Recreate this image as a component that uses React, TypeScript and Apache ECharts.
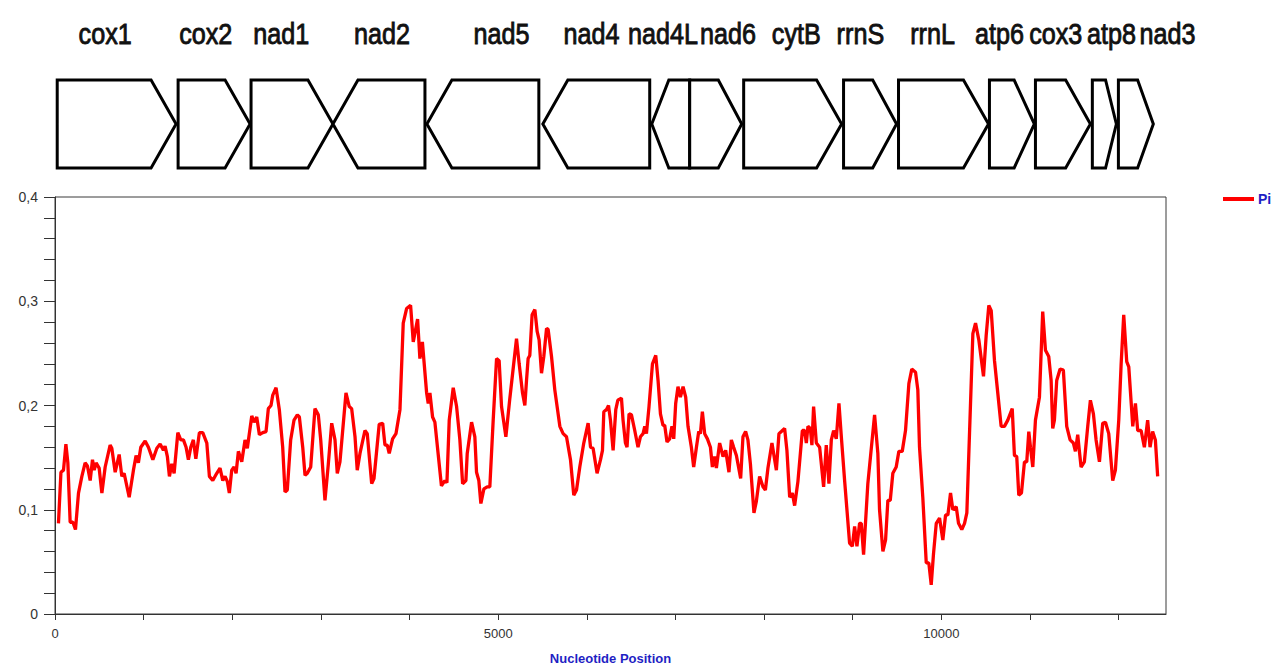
import React, { useEffect, useRef } from "react";
import * as echarts from "echarts";

// ---- Gene map ----
const geneNames = ["cox1", "cox2", "nad1", "nad2", "nad5", "nad4", "nad4L", "nad6", "cytB", "rrnS", "rrnL", "atp6", "cox3", "atp8", "nad3"];
const geneStart = [25, 1389, 2212, 3136, 4196, 5504, 6733, 7161, 7770, 8897, 9517, 10543, 11062, 11704, 11998];
const geneEnd = [1366, 2201, 3136, 4174, 5459, 6710, 7161, 7748, 8875, 9495, 10532, 11050, 11682, 11975, 12392];
const geneStrand = [1, 1, 1, -1, -1, -1, -1, 1, 1, 1, 1, 1, 1, 1, 1];
const geneLabelPos = [566, 1701, 2554, 3689, 5038, 6053, 6860, 7593, 8364, 9087, 9901, 10656, 11291, 11919, 12553];

// ---- Nucleotide diversity (Pi) ----
const piPosition = [
  39, 67, 96, 123, 145, 171, 202, 231, 265, 303, 340, 366, 397, 423, 442, 464, 498, 529, 566, 622,
  641, 679, 724, 754, 780, 837, 885, 915, 941, 968, 1017, 1054, 1104, 1149, 1186, 1223, 1242, 1268, 1291, 1318,
  1344, 1386, 1419, 1449, 1479, 1505, 1532, 1561, 1589, 1629, 1667, 1713, 1742, 1780, 1825, 1862, 1893, 1919, 1945, 1967,
  1994, 2020, 2043, 2069, 2107, 2144, 2170, 2220, 2246, 2276, 2306, 2344, 2381, 2407, 2437, 2457, 2494, 2531, 2569, 2595,
  2621, 2659, 2697, 2734, 2757, 2795, 2821, 2847, 2885, 2933, 2971, 2998, 3046, 3083, 3122, 3159, 3185, 3215, 3283, 3320,
  3347, 3385, 3410, 3441, 3497, 3523, 3573, 3599, 3658, 3697, 3723, 3749, 3771, 3809, 3847, 3892, 3929, 3967, 4012, 4042,
  4091, 4117, 4145, 4193, 4211, 4230, 4260, 4286, 4360, 4399, 4422, 4448, 4493, 4531, 4568, 4599, 4636, 4651, 4700, 4737,
  4756, 4782, 4805, 4839, 4876, 4906, 4944, 4982, 5011, 5038, 5087, 5132, 5207, 5237, 5275, 5301, 5320, 5338, 5357, 5383,
  5414, 5440, 5462, 5489, 5515, 5546, 5564, 5602, 5639, 5696, 5733, 5771, 5816, 5853, 5884, 5921, 5966, 6015, 6042, 6071,
  6116, 6155, 6177, 6192, 6222, 6245, 6267, 6297, 6327, 6350, 6391, 6409, 6436, 6454, 6477, 6504, 6541, 6578, 6605, 6635,
  6654, 6673, 6702, 6741, 6778, 6804, 6831, 6860, 6879, 6905, 6935, 6961, 6981, 7003, 7029, 7056, 7086, 7116, 7142, 7180,
  7206, 7237, 7263, 7282, 7304, 7330, 7361, 7395, 7417, 7443, 7462, 7499, 7537, 7567, 7604, 7631, 7657, 7688, 7736, 7762,
  7792, 7818, 7846, 7886, 7913, 7950, 7988, 8015, 8044, 8089, 8139, 8168, 8195, 8232, 8258, 8289, 8319, 8345, 8382, 8432,
  8458, 8477, 8495, 8522, 8540, 8559, 8590, 8627, 8672, 8702, 8732, 8759, 8785, 8815, 8845, 8872, 8909, 8965, 8996, 9022,
  9048, 9078, 9097, 9123, 9171, 9247, 9284, 9303, 9341, 9371, 9397, 9424, 9453, 9491, 9521, 9559, 9596, 9634, 9667, 9709,
  9735, 9754, 9791, 9830, 9859, 9886, 9912, 9943, 9980, 10017, 10048, 10074, 10104, 10130, 10168, 10194, 10231, 10262, 10288, 10356,
  10386, 10423, 10476, 10506, 10536, 10563, 10600, 10637, 10675, 10712, 10750, 10800, 10825, 10851, 10874, 10904, 10938, 10964, 10987, 11006,
  11032, 11062, 11107, 11144, 11175, 11212, 11239, 11257, 11276, 11302, 11340, 11377, 11415, 11453, 11490, 11513, 11539, 11558, 11577, 11614,
  11652, 11682, 11716, 11746, 11784, 11821, 11852, 11889, 11934, 11964, 12002, 12029, 12058, 12092, 12115, 12160, 12190, 12216, 12254, 12291,
  12328, 12355, 12384, 12415, 12441,
];
const piValue = [
  0.087, 0.136, 0.138, 0.163, 0.145, 0.088, 0.088, 0.081, 0.116, 0.132, 0.145, 0.142, 0.128, 0.148, 0.138, 0.145, 0.140, 0.116, 0.141, 0.162,
  0.159, 0.136, 0.153, 0.132, 0.135, 0.112, 0.138, 0.152, 0.145, 0.160, 0.166, 0.160, 0.148, 0.159, 0.163, 0.157, 0.161, 0.151, 0.132, 0.144,
  0.135, 0.174, 0.167, 0.167, 0.160, 0.148, 0.160, 0.167, 0.149, 0.174, 0.174, 0.164, 0.132, 0.128, 0.135, 0.140, 0.128, 0.132, 0.127, 0.116,
  0.138, 0.141, 0.135, 0.156, 0.146, 0.167, 0.159, 0.190, 0.184, 0.189, 0.172, 0.174, 0.175, 0.197, 0.200, 0.210, 0.217, 0.196, 0.160, 0.117,
  0.119, 0.167, 0.186, 0.191, 0.189, 0.160, 0.133, 0.135, 0.141, 0.197, 0.191, 0.167, 0.109, 0.143, 0.183, 0.167, 0.135, 0.146, 0.212, 0.199,
  0.197, 0.170, 0.138, 0.154, 0.176, 0.173, 0.125, 0.130, 0.182, 0.183, 0.162, 0.162, 0.154, 0.168, 0.173, 0.196, 0.279, 0.293, 0.296, 0.261,
  0.283, 0.245, 0.261, 0.212, 0.202, 0.212, 0.189, 0.184, 0.123, 0.128, 0.126, 0.186, 0.217, 0.199, 0.167, 0.125, 0.128, 0.154, 0.184, 0.170,
  0.136, 0.128, 0.106, 0.120, 0.122, 0.122, 0.186, 0.245, 0.243, 0.199, 0.170, 0.207, 0.264, 0.240, 0.212, 0.200, 0.224, 0.245, 0.248, 0.287,
  0.292, 0.271, 0.263, 0.231, 0.247, 0.274, 0.273, 0.247, 0.215, 0.180, 0.173, 0.170, 0.148, 0.114, 0.119, 0.141, 0.164, 0.183, 0.160, 0.159,
  0.135, 0.148, 0.157, 0.194, 0.196, 0.200, 0.186, 0.157, 0.196, 0.205, 0.207, 0.186, 0.164, 0.160, 0.192, 0.191, 0.176, 0.160, 0.170, 0.173,
  0.180, 0.173, 0.199, 0.240, 0.248, 0.224, 0.192, 0.181, 0.181, 0.165, 0.168, 0.180, 0.168, 0.202, 0.218, 0.208, 0.218, 0.208, 0.180, 0.160,
  0.141, 0.160, 0.175, 0.173, 0.194, 0.173, 0.168, 0.160, 0.141, 0.151, 0.140, 0.164, 0.151, 0.157, 0.136, 0.167, 0.160, 0.152, 0.130, 0.170,
  0.175, 0.167, 0.144, 0.097, 0.108, 0.132, 0.122, 0.119, 0.140, 0.164, 0.138, 0.173, 0.175, 0.178, 0.157, 0.112, 0.116, 0.104, 0.127, 0.176,
  0.176, 0.164, 0.180, 0.178, 0.162, 0.199, 0.164, 0.160, 0.122, 0.162, 0.125, 0.167, 0.176, 0.168, 0.202, 0.170, 0.128, 0.068, 0.065, 0.084,
  0.065, 0.087, 0.087, 0.057, 0.125, 0.191, 0.154, 0.100, 0.060, 0.071, 0.109, 0.109, 0.135, 0.141, 0.156, 0.156, 0.176, 0.221, 0.235, 0.232,
  0.215, 0.160, 0.112, 0.049, 0.049, 0.028, 0.058, 0.087, 0.092, 0.071, 0.095, 0.095, 0.116, 0.100, 0.103, 0.087, 0.081, 0.087, 0.097, 0.269,
  0.279, 0.263, 0.228, 0.267, 0.296, 0.291, 0.243, 0.212, 0.180, 0.180, 0.186, 0.197, 0.152, 0.151, 0.114, 0.116, 0.146, 0.146, 0.175, 0.160,
  0.141, 0.186, 0.208, 0.290, 0.253, 0.247, 0.224, 0.178, 0.186, 0.224, 0.235, 0.234, 0.180, 0.167, 0.164, 0.156, 0.172, 0.156, 0.141, 0.146,
  0.180, 0.205, 0.192, 0.167, 0.146, 0.183, 0.184, 0.173, 0.128, 0.138, 0.186, 0.240, 0.287, 0.242, 0.237, 0.180, 0.202, 0.176, 0.176, 0.160,
  0.186, 0.160, 0.175, 0.167, 0.132,
];

const xMin = 0;
const xMax = 12535;
const yMin = 0;
const yMax = 0.4;

export default function App() {
  const ref = useRef<HTMLDivElement>(null);

  useEffect(() => {
    if (!ref.current) return;
    const chart = echarts.init(ref.current, null, { renderer: "svg" });

    const gridLeft = 55;
    const gridWidth = 1111;

    const option: any = {
      animation: false,
      backgroundColor: "#ffffff",
      legend: {
        data: ["Pi"],
        left: 1218,
        top: 187,
        icon: "rect",
        itemWidth: 31,
        itemHeight: 4,
        itemGap: 6,
        textStyle: { color: "#1f1fc4", fontWeight: "bold", fontSize: 14, fontFamily: "Liberation Sans", padding: [0, 0, 0, -1] },
      },
      grid: [
        {
          left: gridLeft,
          top: 197,
          width: gridWidth,
          height: 417,
          show: true,
          borderColor: "#3a3a3a",
          borderWidth: 1,
          backgroundColor: "transparent",
          containLabel: false,
          outerBoundsMode: "none",
        },
        { left: gridLeft, top: 80, width: gridWidth, height: 88, show: false, containLabel: false, outerBoundsMode: "none" },
      ],
      xAxis: [
        {
          type: "value",
          gridIndex: 0,
          min: xMin,
          max: xMax,
          interval: 1000,
          name: "Nucleotide Position",
          nameLocation: "middle",
          nameGap: 38,
          nameTextStyle: { color: "#1f1fc4", fontWeight: "bold", fontSize: 13, fontFamily: "Liberation Sans" },
          axisLine: { show: true, lineStyle: { color: "#333", width: 1 } },
          axisTick: { show: true, inside: false, length: 6, lineStyle: { color: "#333" } },
          splitLine: { show: false },
          axisLabel: {
            showMaxLabel: false,
            margin: 13,
            color: "#333",
            fontSize: 13,
            fontFamily: "Liberation Sans",
            formatter: (v: number) => (v % 5000 === 0 ? String(v) : ""),
          },
        },
        { type: "value", gridIndex: 1, min: xMin, max: xMax, show: false },
      ],
      yAxis: [
        {
          type: "value",
          gridIndex: 0,
          min: yMin,
          max: yMax,
          interval: 0.1,
          axisLine: { show: true, lineStyle: { color: "#333", width: 1 } },
          axisTick: { show: true, inside: false, length: 11, lineStyle: { color: "#333" } },
          minorTick: { show: true, splitNumber: 5, length: 11, lineStyle: { color: "#333" } },
          splitLine: { show: false },
          axisLabel: {
            margin: 17,
            color: "#333",
            fontSize: 14,
            fontFamily: "Liberation Sans",
            formatter: (v: number) => (v === 0 ? "0" : v.toFixed(1).replace(".", ",")),
          },
        },
        { type: "value", gridIndex: 1, min: 0, max: 1, show: false },
      ],
      series: [
        {
          name: "Pi",
          type: "line",
          xAxisIndex: 0,
          yAxisIndex: 0,
          data: piPosition.map((p, i) => [p, piValue[i]]),
          showSymbol: false,
          symbol: "none",
          lineStyle: { color: "#ff0000", width: 3.3 },
          itemStyle: { color: "#ff0000" },
          z: 3,
        },
        {
          name: "genes",
          type: "custom",
          xAxisIndex: 1,
          yAxisIndex: 1,
          clip: false,
          silent: true,
          data: geneStart.map((s, i) => [s, geneEnd[i], geneStrand[i]]),
          encode: { x: [0, 1] },
          renderItem: (params: any, api: any) => {
            const a = api.coord([api.value(0), 1]);
            const b = api.coord([api.value(1), 0]);
            const strand = api.value(2);
            const x0 = a[0];
            const x1 = b[0];
            const yTop = a[1];
            const yBot = b[1];
            const yMid = (yTop + yBot) / 2;
            const head = Math.min(25, (x1 - x0) * 0.45);
            const pts =
              strand > 0
                ? [[x0, yTop], [x1 - head, yTop], [x1, yMid], [x1 - head, yBot], [x0, yBot]]
                : [[x0 + head, yTop], [x1, yTop], [x1, yBot], [x0 + head, yBot], [x0, yMid]];
            return {
              type: "polygon",
              shape: { points: pts },
              style: { fill: "#ffffff", stroke: "#000000", lineWidth: 3, lineJoin: "miter" },
            };
          },
        },
        {
          name: "geneLabels",
          type: "custom",
          xAxisIndex: 1,
          yAxisIndex: 1,
          clip: false,
          silent: true,
          data: geneLabelPos.map((p) => [p, 1]),
          encode: { x: 0 },
          renderItem: (params: any, api: any) => {
            const c = api.coord([api.value(0), api.value(1)]);
            return {
              type: "text",
              x: c[0],
              y: c[1] - 46,
              scaleX: 0.84,
              style: {
                text: geneNames[params.dataIndex],
                fill: "#111111",
                fontSize: 30,
                fontFamily: "Liberation Sans",
                align: "center",
                verticalAlign: "middle",
                stroke: "#111111",
                lineWidth: 0.9,
              },
            };
          },
        },
      ],
    };

    chart.setOption(option);
    return () => chart.dispose();
  }, []);

  return (
    <div
      ref={ref}
      style={{ position: "fixed", left: 0, top: 0, width: 1273, height: 665, background: "#fff" }}
    />
  );
}
